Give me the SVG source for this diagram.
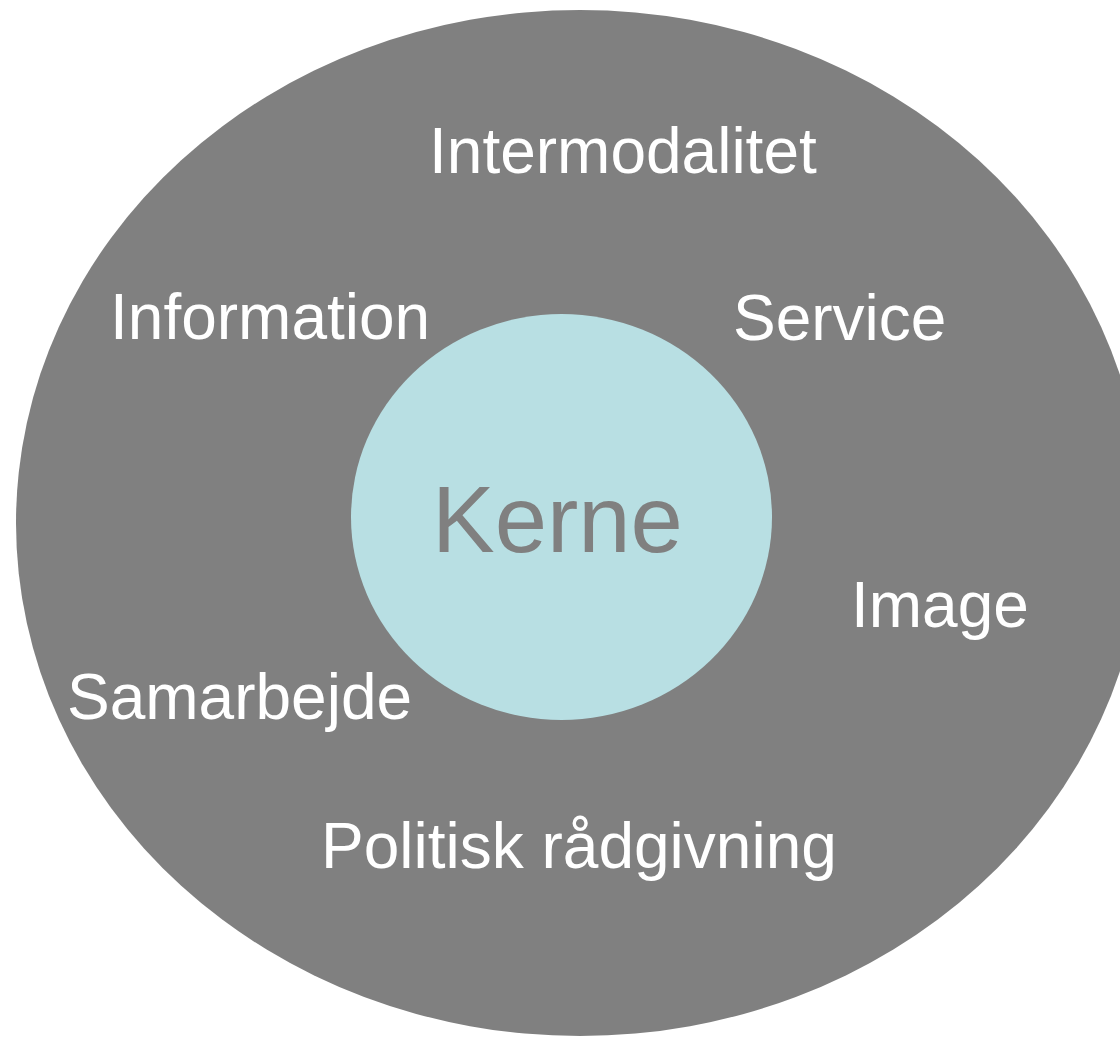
<svg xmlns="http://www.w3.org/2000/svg" width="1120" height="1037" viewBox="0 0 1120 1037">
<style>
.lbl{font-family:"Liberation Sans",Arial,sans-serif;font-size:64px;fill:#ffffff}
.core{font-family:"Liberation Sans",Arial,sans-serif;font-size:94px;fill:#808080}
</style>
<rect width="1120" height="1037" fill="#ffffff"/>
<g id="outer">
<ellipse cx="580" cy="523" rx="564" ry="513" fill="#808080"/>
</g>
<g id="kerne">
<ellipse cx="561.5" cy="517" rx="210.5" ry="203" fill="#B8DFE3"/>
<text class="core" x="432" y="552">Kerne</text>
</g>
<g id="intermodalitet"><text class="lbl" x="429" y="173">Intermodalitet</text></g>
<g id="information"><text class="lbl" x="110" y="339">Information</text></g>
<g id="service"><text class="lbl" x="733" y="340">Service</text></g>
<g id="image"><text class="lbl" x="851" y="627">Image</text></g>
<g id="samarbejde"><text class="lbl" x="67" y="719">Samarbejde</text></g>
<g id="politisk"><text class="lbl" x="321" y="868">Politisk rådgivning</text></g>
<g id="connectors"></g>
</svg>
